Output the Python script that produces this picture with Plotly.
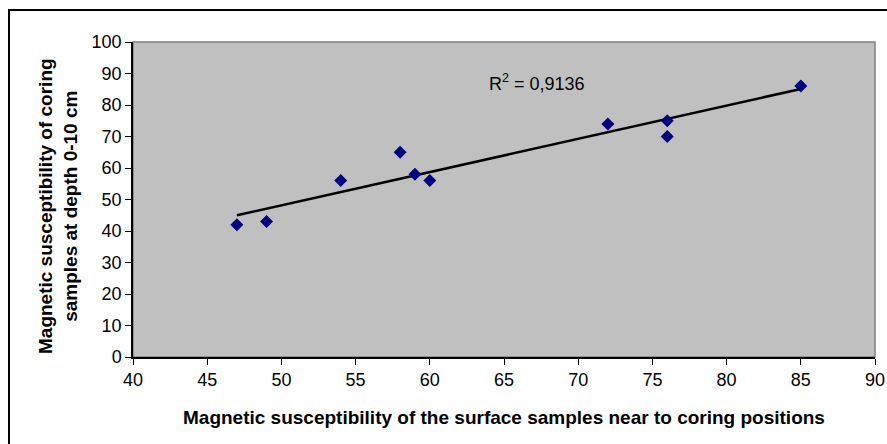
import numpy as np
import plotly.graph_objects as go

x_surface = [47, 49, 54, 58, 59, 60, 72, 76, 76, 85]
y_coring = [42, 43, 56, 65, 58, 56, 74, 75, 70, 86]
x_ticks = [40, 45, 50, 55, 60, 65, 70, 75, 80, 85, 90]
y_ticks = [0, 10, 20, 30, 40, 50, 60, 70, 80, 90, 100]
r2_label = "R<sup>2</sup> = 0,9136"
x_title = "Magnetic susceptibility of the surface samples near to coring positions"
y_title = "Magnetic susceptibility of coring<br>samples at depth 0-10 cm"

slope, intercept = np.polyfit(x_surface, y_coring, 1)
tx = [min(x_surface), max(x_surface)]
ty = [slope * v + intercept for v in tx]

FONT = "Liberation Sans, Arial, sans-serif"

# screen-pixel layout of the plot area
pl, pr, pt, pb = 133, 875, 42, 357

fig = go.Figure()
fig.add_trace(go.Scatter(x=tx, y=ty, mode="lines",
                         line=dict(color="black", width=2.5), hoverinfo="skip"))
fig.add_trace(go.Scatter(x=x_surface, y=y_coring, mode="markers",
                         marker=dict(symbol="diamond", size=10, color="#000080",
                                     line=dict(width=0))))

def px_x(v):
    return (v - pl) / (pr - pl)

def px_y(v):
    return (pb - v) / (pb - pt)

fig.update_layout(
    width=887, height=444,
    margin=dict(l=pl, r=887 - pr, t=pt, b=444 - pb),
    paper_bgcolor="white", plot_bgcolor="#C0C0C0",
    showlegend=False,
    font=dict(family=FONT, size=18, color="black"),
    xaxis=dict(range=[40, 90], tickvals=x_ticks, ticks="outside", ticklen=6,
               tickcolor="black", showline=True, linecolor="black", linewidth=1.5,
               showgrid=False, zeroline=False, tickfont=dict(size=18),
               automargin=False),
    yaxis=dict(range=[0, 100], tickvals=y_ticks, ticks="outside", ticklen=6,
               tickcolor="black", showline=True, linecolor="black", linewidth=1.5,
               showgrid=False, zeroline=False, tickfont=dict(size=18),
               automargin=False),
    shapes=[
        dict(type="rect", xref="paper", yref="paper", x0=0, y0=0, x1=1, y1=1,
             line=dict(color="#808080", width=1.5), layer="below"),
        dict(type="rect", xref="paper", yref="paper", x0=px_x(9), y0=px_y(470),
             x1=px_x(920), y1=px_y(10), line=dict(color="black", width=2)),
    ],
    annotations=[
        dict(x=px_x(537), y=px_y(82), xref="paper", yref="paper", text=r2_label,
             showarrow=False, xanchor="center", yanchor="middle", font=dict(size=18)),
        dict(x=px_x(504), y=px_y(417), xref="paper", yref="paper",
             text="<b>" + x_title + "</b>", showarrow=False,
             xanchor="center", yanchor="middle", font=dict(size=19)),
        dict(x=px_x(58), y=px_y(206), xref="paper", yref="paper",
             text="<b>" + y_title + "</b>", showarrow=False, textangle=-90,
             xanchor="center", yanchor="middle", font=dict(size=19)),
    ],
)

fig.write_html("out.html",
               config={"displayModeBar": False},
               post_script="document.body.style.margin='0';"
                           "document.body.style.overflow='hidden';")
